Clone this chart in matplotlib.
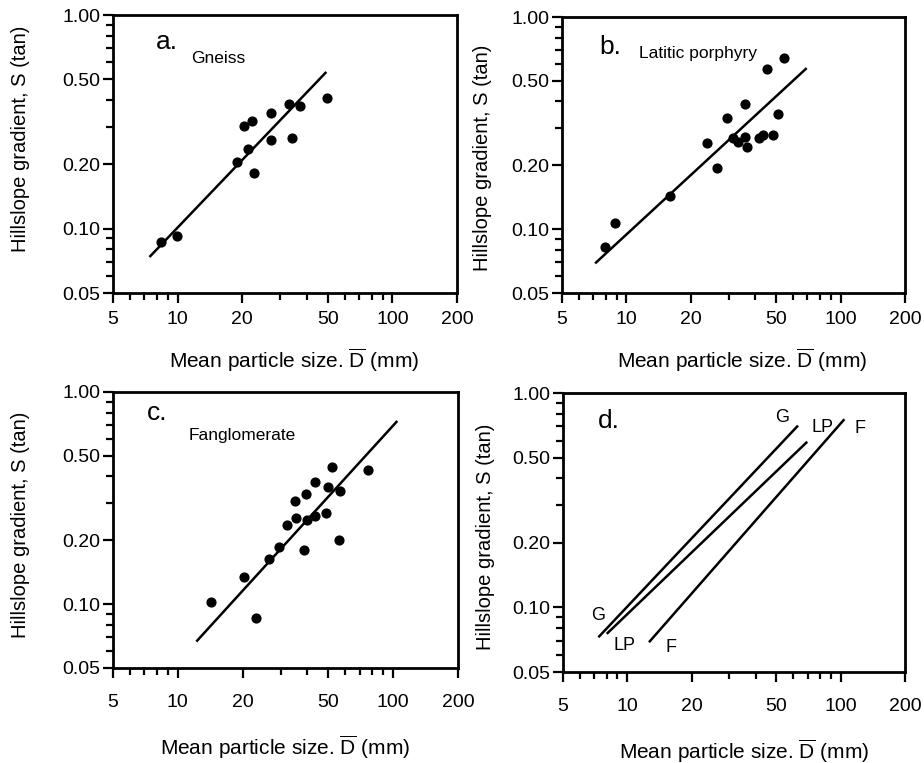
import matplotlib
matplotlib.use("Agg")
import matplotlib.pyplot as plt
from matplotlib.ticker import FixedLocator, NullFormatter

plt.rcParams['font.family'] = ['Liberation Sans', 'DejaVu Sans']
plt.rcParams['mathtext.fontset'] = 'custom'
plt.rcParams['mathtext.rm'] = 'Liberation Sans'

# panel a - Gneiss
gneiss_d = [8.4, 9.9, 18.9, 21.2, 20.4, 22.3, 22.7, 27.2, 27.2, 33.0, 34.1, 37.1, 49.6]
gneiss_s = [0.087, 0.092, 0.205, 0.235, 0.302, 0.318, 0.183, 0.349, 0.259, 0.383, 0.265, 0.377, 0.409]
gneiss_fit_d = [7.46, 48.8]
gneiss_fit_s = [0.0744, 0.536]

# panel b - Latitic porphyry
lp_d = [7.9, 8.8, 15.9, 23.7, 26.4, 29.4, 31.6, 33.3, 35.8, 35.8, 36.7, 41.7, 43.3, 48.3, 45.3, 51.3, 54.7]
lp_s = [0.0825, 0.107, 0.144, 0.254, 0.195, 0.335, 0.268, 0.258, 0.388, 0.271, 0.245, 0.268, 0.278, 0.278,
        0.569, 0.348, 0.641]
lp_fit_d = [7.21, 68.8]
lp_fit_s = [0.0696, 0.569]

# panel c - Fanglomerate
fang_d = [14.2, 20.3, 23.1, 26.4, 29.6, 32.0, 35.2, 35.0, 38.5, 39.4, 39.7, 43.5, 43.5, 48.8, 49.6, 52.2,
          55.8, 56.9, 76.2]
fang_s = [0.102, 0.134, 0.086, 0.164, 0.185, 0.236, 0.254, 0.307, 0.179, 0.330, 0.250, 0.377, 0.260, 0.268,
          0.358, 0.441, 0.201, 0.340, 0.429]
fang_fit_d = [12.3, 103.6]
fang_fit_s = [0.0673, 0.723]

# panel d - the three fitted lines together
comp_names = ['G', 'LP', 'F']
comp_d = [[7.39, 62.5], [8.09, 69.0], [12.75, 103.1]]
comp_s = [[0.0733, 0.698], [0.076, 0.587], [0.0695, 0.747]]
comp_top_d = [53.2, 81.8, 122.5]
comp_top_s = [0.769, 0.690, 0.682]
comp_bot_d = [7.31, 9.67, 16.1]
comp_bot_s = [0.0917, 0.0663, 0.0651]

x_major = [5, 10, 20, 50, 100, 200]
x_minor = [6, 7, 8, 9, 30, 40, 60, 70, 80, 90]
y_major = [0.05, 0.1, 0.2, 0.5, 1.0]
y_labels = ['0.05', '0.10', '0.20', '0.50', '1.00']
y_minor = [0.06, 0.07, 0.08, 0.09, 0.3, 0.4, 0.6, 0.7, 0.8, 0.9]

W, H = 924, 763
fig = plt.figure(figsize=(W / 100, H / 100), dpi=100)


def make_axes(left, right, top, bottom):
    return fig.add_axes([left / W, 1 - bottom / H, (right - left) / W, (bottom - top) / H])


def setup(ax, xpad, xlab_y, xlab_x, ylab_x, ylab_y):
    ax.set_xscale('log')
    ax.set_yscale('log')
    ax.set_xlim(5, 200)
    ax.set_ylim(0.05, 1.0)
    ax.xaxis.set_major_locator(FixedLocator(x_major))
    ax.xaxis.set_minor_locator(FixedLocator(x_minor))
    ax.set_xticklabels([str(v) for v in x_major])
    ax.xaxis.set_minor_formatter(NullFormatter())
    ax.yaxis.set_major_locator(FixedLocator(y_major))
    ax.yaxis.set_minor_locator(FixedLocator(y_minor))
    ax.set_yticklabels(y_labels)
    ax.yaxis.set_minor_formatter(NullFormatter())
    for sp in ax.spines.values():
        sp.set_linewidth(2)
    ax.tick_params(which='major', direction='out', length=7, width=1.6, labelsize=14)
    ax.tick_params(which='minor', direction='out', length=5, width=1.6)
    ax.tick_params(axis='x', which='major', pad=xpad)
    ax.tick_params(axis='y', which='major', pad=2)
    ax.set_xlabel(r'Mean particle size. $\overline{\mathrm{D}}$ (mm)', fontsize=15)
    ax.set_ylabel('Hillslope gradient, S (tan)', fontsize=14.5)
    ax.xaxis.set_label_coords(xlab_x, xlab_y)
    ax.yaxis.set_label_coords(ylab_x, ylab_y)


ax_a = make_axes(113, 457, 15, 293)
setup(ax_a, 6, -0.195, 0.525, -0.241, 0.556)
ax_a.plot(gneiss_fit_d, gneiss_fit_s, color='black', lw=1.8)
ax_a.scatter(gneiss_d, gneiss_s, s=40, color='black', zorder=3)
ax_a.text(0.156, 0.904, 'a.', transform=ax_a.transAxes, fontsize=19, ha='center', va='center')
ax_a.text(0.306, 0.844, 'Gneiss', transform=ax_a.transAxes, fontsize=12.5, ha='center', va='center')

ax_b = make_axes(562, 905, 17, 293)
setup(ax_b, 6, -0.195, 0.525, -0.204, 0.49)
ax_b.plot(lp_fit_d, lp_fit_s, color='black', lw=1.8)
ax_b.scatter(lp_d, lp_s, s=40, color='black', zorder=3)
ax_b.text(0.14, 0.893, 'b.', transform=ax_b.transAxes, fontsize=19, ha='center', va='center')
ax_b.text(0.397, 0.869, 'Latitic porphyry', transform=ax_b.transAxes, fontsize=12.5, ha='center', va='center')

ax_c = make_axes(113, 458, 392, 668)
setup(ax_c, 12, -0.24, 0.5, -0.241, 0.52)
ax_c.plot(fang_fit_d, fang_fit_s, color='black', lw=1.8)
ax_c.scatter(fang_d, fang_s, s=40, color='black', zorder=3)
ax_c.text(0.127, 0.925, 'c.', transform=ax_c.transAxes, fontsize=19, ha='center', va='center')
ax_c.text(0.374, 0.841, 'Fanglomerate', transform=ax_c.transAxes, fontsize=12.5, ha='center', va='center')

ax_d = make_axes(563, 905, 393, 672)
setup(ax_d, 12, -0.235, 0.53, -0.199, 0.484)
for i in range(len(comp_names)):
    ax_d.plot(comp_d[i], comp_s[i], color='black', lw=1.8)
    ax_d.text(comp_top_d[i], comp_top_s[i], comp_names[i], fontsize=13, ha='center', va='center')
    ax_d.text(comp_bot_d[i], comp_bot_s[i], comp_names[i], fontsize=13, ha='center', va='center')
ax_d.text(0.135, 0.9, 'd.', transform=ax_d.transAxes, fontsize=19, ha='center', va='center')

fig.savefig('out.png', dpi=100)
